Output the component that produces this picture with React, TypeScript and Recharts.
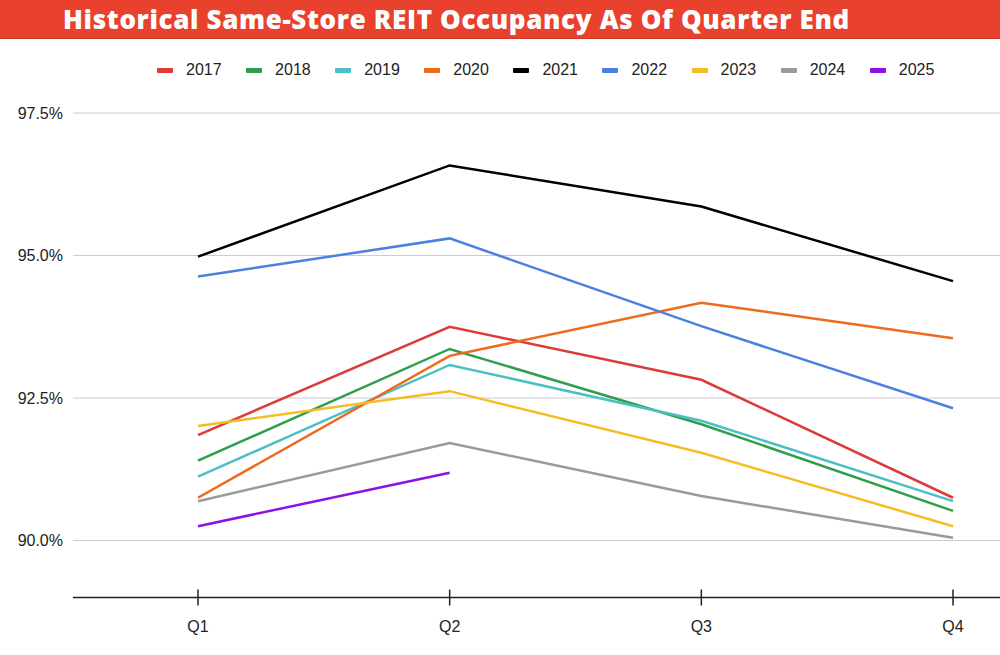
import { CartesianGrid, Line, LineChart, XAxis, YAxis } from 'recharts'

const quarters = ['Q1', 'Q2', 'Q3', 'Q4']
const years = ['2017', '2018', '2019', '2020', '2021', '2022', '2023', '2024', '2025']
const colors = [
  '#db3b3b',
  '#2f9e4c',
  '#4cbfc4',
  '#ec6b1d',
  '#000000',
  '#4a80e0',
  '#f5bd24',
  '#9a9a9a',
  '#8a12e6'
]

const occ2017 = [91.85, 93.75, 92.82, 90.75]
const occ2018 = [91.4, 93.36, 92.04, 90.52]
const occ2019 = [91.12, 93.08, 92.1, 90.69]
const occ2020 = [90.75, 93.24, 94.17, 93.55]
const occ2021 = [94.98, 96.58, 95.86, 94.55]
const occ2022 = [94.63, 95.3, 93.76, 92.32]
const occ2023 = [92.01, 92.62, 91.54, 90.25]
const occ2024 = [90.69, 91.71, 90.78, 90.05]
const occ2025 = [90.25, 91.19, null, null]

const yTicks = [90, 92.5, 95, 97.5]

const series = [occ2017, occ2018, occ2019, occ2020, occ2021, occ2022, occ2023, occ2024, occ2025]

const data = quarters.map((q, i) => {
  const row: Record<string, string | number | null> = { quarter: q }
  years.forEach((y, j) => {
    row[y] = series[j][i]
  })
  return row
})

const FONT = '"Liberation Sans", Arial, sans-serif'

function QuarterTick(props: any) {
  const { x, y, payload } = props
  return (
    <g>
      <line x1={x} x2={x} y1={y - 8} y2={y + 8} stroke="#222" strokeWidth={1.5} />
      <text x={x} y={y + 34} textAnchor="middle" fill="#222" fontSize={16} fontFamily={FONT}>
        {payload.value}
      </text>
    </g>
  )
}

export default function App() {
  return (
    <div
      style={{
        position: 'absolute',
        left: 0,
        top: 0,
        width: 1000,
        height: 655,
        background: '#fff',
        overflow: 'hidden'
      }}
    >
      <div
        style={{
          height: 38,
          background: '#e8422f',
          borderBottom: '1px solid #c93726',
          color: '#fff',
          fontFamily: '"Open Sans", sans-serif',
          fontWeight: 800,
          fontSize: 26,
          letterSpacing: 0.65,
          lineHeight: '38px',
          paddingLeft: 63,
          whiteSpace: 'nowrap'
        }}
      >
        Historical Same-Store REIT Occupancy As Of Quarter End
      </div>

      {/* legend, built from the same year/colour lists */}
      <div
        style={{
          position: 'absolute',
          top: 60,
          left: 157,
          display: 'flex',
          alignItems: 'center',
          height: 20,
          fontFamily: FONT,
          fontSize: 16,
          color: '#222'
        }}
      >
        {years.map((y, i) => (
          <div key={y} style={{ display: 'flex', alignItems: 'center', marginRight: 24.5 }}>
            <span
              style={{
                display: 'inline-block',
                width: 16,
                height: 5,
                background: colors[i],
                borderRadius: 1,
                marginRight: 13
              }}
            />
            <span>{y}</span>
          </div>
        ))}
      </div>

      <div style={{ position: 'absolute', left: 0, top: 0 }}>
        <LineChart width={1000} height={655} data={data} margin={{ top: 56, right: 0, bottom: 0, left: 0 }}>
          <CartesianGrid
            vertical={false}
            horizontalValues={yTicks}
            stroke="#cccccc"
            strokeWidth={1}
          />
          <XAxis
            dataKey="quarter"
            height={57.5}
            padding={{ left: 125, right: 47 }}
            axisLine={{ stroke: '#222', strokeWidth: 1.5 }}
            tickLine={false}
            tickSize={0}
            tickMargin={0}
            tick={<QuarterTick />}
            interval={0}
          />
          <YAxis
            width={73}
            domain={[89, 98.5]}
            ticks={yTicks}
            allowDataOverflow
            axisLine={false}
            tickLine={false}
            tickSize={0}
            tickMargin={10}
            tickFormatter={(v: number) => v.toFixed(1) + '%'}
            tick={{ fill: '#222', fontSize: 16, fontFamily: FONT }}
          />
          {years.map((y, i) => (
            <Line
              key={y}
              type="linear"
              dataKey={y}
              stroke={colors[i]}
              strokeWidth={2.5}
              dot={false}
              activeDot={false}
              isAnimationActive={false}
            />
          ))}
        </LineChart>
      </div>
    </div>
  )
}
